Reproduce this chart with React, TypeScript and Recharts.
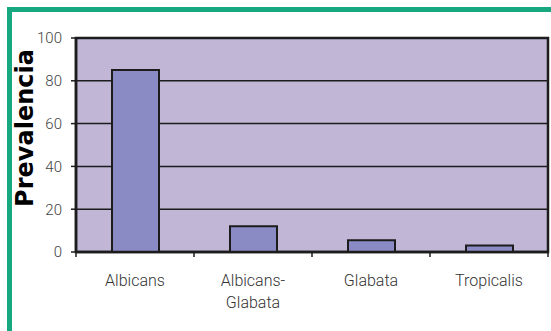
import React from "react";
import {
  Bar,
  BarChart,
  CartesianGrid,
  Label,
  ReferenceArea,
  XAxis,
  YAxis,
} from "recharts";

const categories = ["Albicans", "Albicans-Glabata", "Glabata", "Tropicalis"];
const prevalencia = [85, 12, 5.5, 3];
const yTicks = [0, 20, 40, 60, 80, 100];

const data = categories.map((name, i) => ({ name, value: prevalencia[i] }));

const GREEN = "#17A881";
const PLOT_BG = "#C1B6D6";
const BAR_FILL = "#8A8BC4";
const INK = "#1c1c1c";
const TEXT_FONT = "Roboto, 'DejaVu Sans', sans-serif";

function XTick(props: any) {
  const { x, y, payload, index } = props;
  const half = payload?.offset ?? 58.9;
  const label: string = payload.value;
  const lines = label.includes("-")
    ? [label.slice(0, label.indexOf("-") + 1), label.slice(label.indexOf("-") + 1)]
    : [label];
  return (
    <g>
      <line x1={x - half} x2={x - half} y1={y - 5} y2={y} stroke={INK} strokeWidth={1.5} />
      {index === categories.length - 1 && (
        <line x1={x + half} x2={x + half} y1={y - 5} y2={y} stroke={INK} strokeWidth={1.5} />
      )}
      <text
        x={x}
        y={y}
        textAnchor="middle"
        fill="#333"
        fontSize={16}
        fontWeight={300}
        fontFamily={TEXT_FONT}
      >
        {lines.map((l, i) => (
          <tspan key={i} x={x} dy={i === 0 ? 29 : 22}>
            {l}
          </tspan>
        ))}
      </text>
    </g>
  );
}

export default function App() {
  return (
    <div
      style={{
        position: "absolute",
        left: 0,
        top: 0,
        width: 551,
        height: 331,
        background: "#fff",
        overflow: "hidden",
      }}
    >
      <div
        style={{
          position: "absolute",
          left: 7,
          top: 7,
          width: 560,
          height: 340,
          borderTop: `5px solid ${GREEN}`,
          borderLeft: `5px solid ${GREEN}`,
        }}
      />
      <BarChart
        width={551}
        height={331}
        data={data}
        margin={{ top: 38, right: 3, bottom: 29, left: 0 }}
        style={{ position: "absolute", left: 0, top: 0 }}
      >
        <CartesianGrid
          vertical={false}
          stroke={INK}
          strokeWidth={1.5}
          fill={PLOT_BG}
          fillOpacity={1}
        />
        <XAxis
          dataKey="name"
          height={50}
          tickSize={5}
          tickMargin={0}
          tickLine={false}
          axisLine={{ stroke: INK, strokeWidth: 2.5 }}
          interval={0}
          tick={<XTick />}
        />
        <YAxis
          width={76}
          domain={[0, 100]}
          ticks={yTicks}
          tickSize={5}
          tickMargin={9}
          axisLine={{ stroke: INK, strokeWidth: 2.5 }}
          tickLine={{ stroke: INK, strokeWidth: 1.5 }}
          tick={{ fill: "#444", fontSize: 15, fontWeight: 300, fontFamily: TEXT_FONT }}
        >
          <Label
            content={(p: any) => {
              const vb = p.viewBox || { x: 0, y: 38, height: 214 };
              const cx = vb.x + 25;
              const cy = vb.y + vb.height / 2 - 17;
              return (
                <text
                  x={cx}
                  y={cy}
                  transform={`rotate(-90 ${cx} ${cy})`}
                  textAnchor="middle"
                  dominantBaseline="central"
                  fontFamily="'DejaVu Sans', sans-serif"
                  fontWeight="bold"
                  fontSize={24}
                  fill="#000"
                >
                  Prevalencia
                </text>
              );
            }}
          />
        </YAxis>
        <Bar
          dataKey="value"
          fill={BAR_FILL}
          stroke={INK}
          strokeWidth={2}
          barSize={47}
          isAnimationActive={false}
        />
        <ReferenceArea
          y1={0}
          y2={100}
          fill="none"
          stroke={INK}
          strokeWidth={2.5}
          ifOverflow="visible"
        />
      </BarChart>
    </div>
  );
}
